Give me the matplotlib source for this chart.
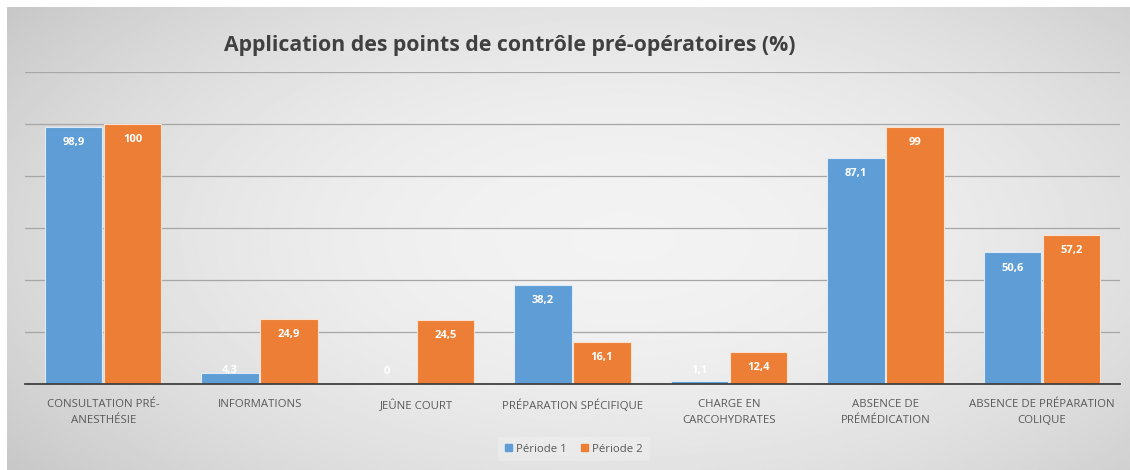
import matplotlib.pyplot as plt
import numpy as np
from matplotlib.patches import Patch

categories = [
    "CONSULTATION PRÉ-\nANESTHÉSIE",
    "INFORMATIONS",
    "JEÛNE COURT",
    "PRÉPARATION SPÉCIFIQUE",
    "CHARGE EN\nCARCOHYDRATES",
    "ABSENCE DE\nPRÉMÉDICATION",
    "ABSENCE DE PRÉPARATION\nCOLIQUE",
]
periode_1 = [98.9, 4.3, 0.0, 38.2, 1.1, 87.1, 50.6]
periode_2 = [100.0, 24.9, 24.5, 16.1, 12.4, 99.0, 57.2]
labels_1 = ["98,9", "4,3", "0", "38,2", "1,1", "87,1", "50,6"]
labels_2 = ["100", "24,9", "24,5", "16,1", "12,4", "99", "57,2"]

BLUE = "#5F9DD6"
ORANGE = "#EC7F35"
TEXT = "#595959"

W, H = 1130, 470
fig = plt.figure(figsize=(W / 100, H / 100), dpi=100)
fig.patch.set_facecolor("white")

# gradient background (lighter in the middle, darker toward the edges)
bg = fig.add_axes([7 / W, 0, 1 - 7 / W, (H - 7) / H], zorder=0)
yy, xx = np.mgrid[0:1:300j, 0:1:600j]
r2 = ((xx - 0.55) / 0.75) ** 2 + ((yy - 0.5) / 0.9) ** 2
shade = np.clip(0.95 - 0.2 * r2, 0.76, 0.95)
bg.imshow(shade, cmap="gray", vmin=0, vmax=1, aspect="auto",
          extent=[0, 1, 0, 1], origin="upper", interpolation="bilinear")
bg.set_axis_off()

ax = fig.add_axes([25 / W, (H - 384) / H, 1095 / W, 312 / H], zorder=1)
ax.patch.set_alpha(0)

x = np.arange(len(categories))
bw = 0.367
b1 = ax.bar(x - bw / 2 - 0.005, periode_1, bw, color=BLUE,
            edgecolor="#dcebf7", linewidth=0.8, zorder=3)
b2 = ax.bar(x + bw / 2 + 0.005, periode_2, bw, color=ORANGE,
            edgecolor="#fbe1cf", linewidth=0.8, zorder=3)

for bars, vals, texts in ((b1, periode_1, labels_1), (b2, periode_2, labels_2)):
    for rect, v, t in zip(bars, vals, texts):
        ax.text(rect.get_x() + rect.get_width() / 2, max(v - 6.0, 5.0), t,
                ha="center", va="center", color="white", fontsize=8,
                fontweight="bold", family="Open Sans", zorder=4)

ax.set_xlim(-0.5, len(categories) - 0.5)
ax.set_ylim(0, 120)
ax.set_yticks(np.arange(0, 121, 20))
ax.set_yticklabels([])
ax.tick_params(axis="y", length=0)
ax.grid(axis="y", color="#a6a6a6", linewidth=0.9, zorder=0)
ax.set_xticks(x)
ax.set_xticklabels(categories, fontsize=8.2, color=TEXT, family="Open Sans",
                   linespacing=1.6)
ax.tick_params(axis="x", length=0, pad=11)
for side in ("top", "right", "left"):
    ax.spines[side].set_visible(False)
ax.spines["bottom"].set_color("#404040")
ax.spines["bottom"].set_linewidth(1.3)
ax.spines["bottom"].set_zorder(5)

fig.text(510 / W, 1 - 45 / H, "Application des points de contrôle pré-opératoires (%)",
         ha="center", va="center", fontsize=15.3, fontweight="bold",
         color="#404040", family="Open Sans")

handles = [Patch(color=BLUE, label="Période 1"), Patch(color=ORANGE, label="Période 2")]
leg = fig.legend(handles=handles, loc="center", bbox_to_anchor=(574 / W, 1 - 449 / H),
                 ncol=2, frameon=True, fontsize=8.2, handlelength=0.6, handleheight=0.6,
                 handletextpad=0.4, columnspacing=1.2, borderpad=0.6)
leg.get_frame().set_facecolor("#f0f0f0")
leg.get_frame().set_alpha(0.5)
leg.get_frame().set_edgecolor("none")
for t in leg.get_texts():
    t.set_color(TEXT)
    t.set_family("Open Sans")

fig.savefig("out.png", dpi=100)
